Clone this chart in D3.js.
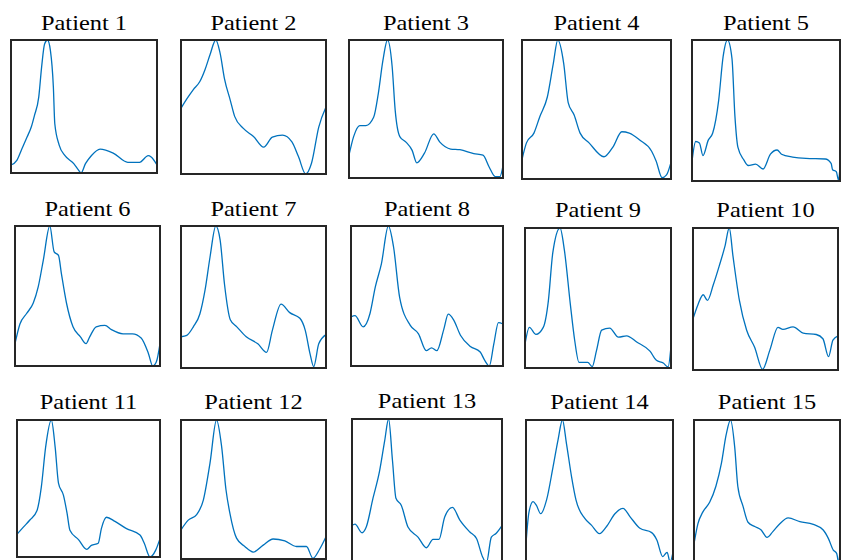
<!DOCTYPE html>
<html>
<head>
<meta charset="utf-8">
<script src="https://cdn.jsdelivr.net/npm/d3@7"></script>
<style>
  body { margin: 0; background: #fff; }
  svg { display: block; }
</style>
</head>
<body>
<script>
// patient labels
const patients = d3.range(1, 16).map((i) => `Patient ${i}`);

// waveforms: [time %, amplitude %] (normalised per patient)
const p1 = [[0,6],[4,9.5],[7,17],[11,27],[14,35],[16,43],[19,57],[21,80],[23,97],[25,100],[27,92],[29,65],[30,37],[33,21],[37,13],[43,7],[46,2.5],[48,0],[51,7],[55,13],[61,18],[70,15],[80,8],[88,8],[94,13],[96,12],[100,6]];
const p2 = [[0,49],[4,56],[8.5,63],[13,69],[16.6,78],[20,89],[24,100],[27,90],[30,71],[34,55],[37,43],[43,34],[50,28],[57,20],[63,27.5],[70,29],[76.5,24],[81,13],[86,0],[90,8],[95,35],[100,50]];
const p3 = [[0,16.5],[3,30],[7,38],[11,38],[16,44],[19,61],[22,85],[25,100],[28,81],[30,49],[33,30],[37,26],[41,20],[44,11],[49,18],[55,32],[59,26],[66,21],[72,20.5],[81,17.7],[87,16.5],[91,8],[95,1],[98,1],[100,9]];
const p4 = [[0,14],[3,26],[8,33],[12,45],[17,59],[21,83],[24,100],[28,83],[31,55],[35,46],[39,33],[45,26],[55,16],[61,23],[67,34],[72,33],[79,28],[87,20],[90,13],[94,1],[97,3],[100,12]];
const p5 = [[0,14],[2.5,28],[5,27],[7.4,18],[11,29],[14,34],[18,57],[21,88],[24,100],[27,87],[29,46],[31,24],[35,15],[38,11],[43,12],[48,8.5],[53,19],[57.5,22],[60.5,19],[68,17],[77,16],[90,15.6],[94,12.5],[95,8],[97.5,6.6],[99,0.7],[100,10]];
const p6 = [[0,16],[3.4,30],[8,37.5],[12.6,45],[16,56.5],[19.5,75.5],[24,100],[27,81.5],[30,79],[32,66],[35.5,45],[40,28],[45,21],[49,16],[51.6,21],[56,28],[62,29],[66.5,26],[74.5,23],[81,23],[87,20],[92,9],[95,0],[97.5,3],[100,16]];
const p7 = [[0,22],[4,23],[8.5,29],[13,38],[16.6,55],[20,78],[24,100],[27,90],[30,59],[34,34],[38.5,29],[45,22],[53,17],[59,11],[63,26.5],[69,45],[75,39],[82,35],[85.7,26.5],[89,10],[91.5,1],[95,17],[100,23.5]];
const p8 = [[0,35],[2.6,36],[8,28],[12.5,37.5],[16,56.5],[20,73],[24.6,100],[28,85],[32,49],[39,29],[44.4,23],[49.5,11],[53,13],[56.5,11],[61,26],[64,37],[67.5,33],[72,22],[78.5,14],[85,10],[88,4],[91,0],[94,16],[97,31],[100,30]];
const p9 = [[0,17],[3,29],[7.5,24],[12.5,29],[16,48],[19,82],[24,100],[27,84],[31,46],[34,20],[37,4],[43,4],[46,1],[49,12.6],[52.5,27],[58,28.5],[64,22],[69.6,23],[76.5,18.6],[85.6,12],[90,5.5],[94.7,3.6],[98,0.7],[100,15.5]];
const p10 = [[0,36],[3.4,46],[7,53],[10,49],[14,60],[18,73],[22,87],[25,100],[27.6,80],[32,49],[37,28],[42.5,16],[48,0.5],[53,14],[58.6,30],[62,28.6],[69,30.4],[76,26],[85,25],[89.6,22],[93.5,9.4],[96.5,21],[100,24]];
const p11 = [[0,16.6],[4.6,22],[9,27],[14,34],[17,51],[20,80],[24,100],[26.7,80],[29,54],[32.5,45],[35,32],[37,19.5],[43,12.7],[48.7,5.6],[52,8.5],[56.8,10],[59,20.7],[62.6,29],[68.5,26],[76.6,20.7],[86,16],[89,10],[93,0],[97,5],[100,13.4]];
const p12 = [[0,21],[5,28],[10.8,32],[15.4,42.4],[20,69],[24.5,100],[28,81],[31,50],[33.7,33],[38.3,15],[44,9],[49.8,5],[56.7,10],[63.5,14.4],[71.6,13],[79.6,9],[86.5,9],[91,0.5],[95.6,7],[100,16]];
const p13 = [[0,26],[2,27],[6.7,21],[9.5,25],[14,45],[18.4,64],[21.8,85],[24.4,100],[27,71],[29.3,45],[32.9,40],[37.3,25],[44,18],[49.6,10.6],[54,16.4],[58,16.4],[61.8,32],[67,38.6],[71.8,30],[78.4,21.7],[83,17],[87,4.4],[89.6,0],[92.9,18],[96,20.5],[100,26]];
const p14 = [[0,13],[2,35],[4.8,42.5],[7,40],[10,34],[14,43.7],[18.4,67],[21.8,86],[24.8,100],[27.5,83.6],[31,60],[34,43.7],[40,30.7],[44.5,26],[50,20],[54.8,25],[60.5,34],[66,37.8],[70.7,32],[77.5,23.7],[85.5,20.7],[89,15.5],[93,3.8],[96,6.8],[98,0],[100,7]];
const p15 = [[0,14],[2.7,28],[6,36],[10.8,43],[15,54],[18.8,70],[22,89.6],[25,100],[27.9,81],[30,54],[33.6,40],[37,29],[41.6,26],[46,23.6],[50,18.5],[54,22.5],[58.8,28],[64.5,32],[72.5,29.4],[81.7,27.5],[88.5,23.6],[92,17.8],[95.4,9.7],[97.7,7.4],[99.3,0],[100,14]];

const series = [p1, p2, p3, p4, p5, p6, p7, p8, p9, p10, p11, p12, p13, p14, p15];

// panel boxes [left, top, right, bottom] and title baselines (layout)
const boxes = [
  [11, 40, 157, 173], [181, 40, 326, 174], [349, 40, 503, 178], [522, 40, 671, 179], [692, 40, 840, 181],
  [15, 226, 160, 366], [181, 226, 326, 368], [351, 226, 503, 366], [525, 228, 671, 368], [693, 228, 838, 370],
  [17, 420, 160, 557], [181, 420, 326, 559], [352, 419, 502, 563], [526, 420, 673, 562], [694, 420, 840, 564],
];
const titleY = [29.5, 29.5, 29.5, 29.5, 29.5, 216, 216, 216, 217, 217, 409, 409, 408, 409, 409];

const W = 844, H = 560;
const svg = d3.select("body").append("svg").attr("width", W).attr("height", H);

series.forEach((data, i) => {
  const [l, t, r, b] = boxes[i];
  const x = d3.scaleLinear().domain([0, 100]).range([l, r]);
  const y = d3.scaleLinear().domain([0, 100]).range([b, t]);
  const g = svg.append("g");

  g.append("path")
    .datum(data)
    .attr("fill", "none")
    .attr("stroke", "#0072BD")
    .attr("stroke-width", 1.3)
    .attr("d", d3.line().x((d) => x(d[0])).y((d) => y(d[1])).curve(d3.curveMonotoneX));

  g.append("rect")
    .attr("x", l).attr("y", t)
    .attr("width", r - l).attr("height", b - t)
    .attr("fill", "none")
    .attr("stroke", "#262626")
    .attr("stroke-width", 2);

  const cx = (l + r) / 2;
  g.append("text")
    .attr("transform", `translate(${cx},${titleY[i]}) scale(1.11,1)`)
    .attr("text-anchor", "middle")
    .style("font-family", '"Liberation Serif"')
    .style("font-size", "22px")
    .attr("fill", "#000")
    .text(patients[i]);
});
</script>
</body>
</html>
